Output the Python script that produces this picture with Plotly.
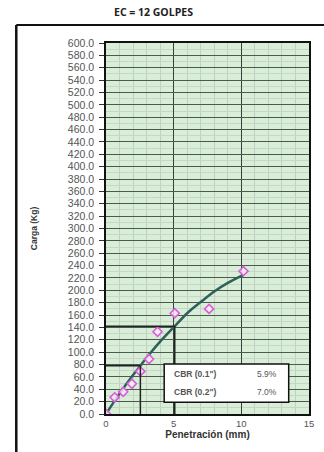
import plotly.graph_objects as go

# Ensayo CBR - EC = 12 golpes
penetracion = [0.0, 0.64, 1.27, 1.91, 2.54, 3.18, 3.81, 5.08, 7.62, 10.16]
carga = [0.0, 27.0, 36.0, 49.0, 69.0, 89.0, 133.0, 163.0, 170.0, 231.0]

# Curva ajustada (lecturas de la curva corregida)
curva_x = [0.0, 1.0, 2.0, 2.54, 3.0, 4.0, 5.08, 6.0, 7.0, 8.0, 9.0, 10.16]
curva_y = [0.0, 33.0, 63.0, 78.0, 91.0, 117.0, 142.0, 163.0, 181.0, 198.0, 212.0, 225.0]

cbr_labels = ['CBR (0.1")', 'CBR (0.2")']
cbr_values = ["5.9%", "7.0%"]

y_ticks = list(range(0, 601, 20))
x_ticks = [0, 5, 10, 15]

fig = go.Figure()

fig.add_trace(go.Scatter(
    x=curva_x, y=curva_y, mode="lines",
    line=dict(color="#2f5f5c", width=2.5, shape="spline"),
    hoverinfo="skip", showlegend=False,
))
fig.add_trace(go.Scatter(
    x=penetracion, y=carga, mode="markers",
    marker=dict(symbol="diamond", size=7, color="rgba(250,235,250,0.8)",
                line=dict(color="#da5cda", width=1.6)),
    showlegend=False,
))

shapes = []
# Lecturas a 2.54 mm y 5.08 mm
for px in (2.54, 5.08):
    py = curva_y[curva_x.index(px)]
    shapes.append(dict(type="line", xref="x", yref="y", x0=px, x1=px, y0=0, y1=py,
                       line=dict(color="#222", width=1.5), layer="above"))
    shapes.append(dict(type="line", xref="x", yref="y", x0=0, x1=px, y0=py, y1=py,
                       line=dict(color="#222", width=1.5), layer="above"))

# Marco exterior del gráfico
shapes.append(dict(type="line", xref="paper", yref="paper", x0=-0.442, x1=1.2,
                   y0=1.0485, y1=1.0485, line=dict(color="#111", width=2)))
shapes.append(dict(type="line", xref="paper", yref="paper", x0=-0.442, x1=-0.442,
                   y0=1.0485, y1=-0.2, line=dict(color="#111", width=2.5)))

# Cuadro de resultados CBR
shapes.append(dict(type="rect", xref="x", yref="y", x0=4.3, x1=13.5, y0=19, y1=81,
                   fillcolor="white", line=dict(color="#111", width=1.5), layer="above"))

annotations = []
for i, (lab, val) in enumerate(zip(cbr_labels, cbr_values)):
    yy = 65 - i * 30
    annotations.append(dict(x=6.6, y=yy, xref="x", yref="y", text=f"<b>{lab}</b>", showarrow=False,
                            font=dict(family="Liberation Sans", size=8.5, color="#555"),
                            xanchor="center"))
    annotations.append(dict(x=12.8, y=yy, xref="x", yref="y", text=val, showarrow=False,
                            font=dict(family="Liberation Sans", size=8.5, color="#555"),
                            xanchor="right"))

annotations.append(dict(x=0.235, y=1.083, xref="paper", yref="paper", text="<b>EC = 12 GOLPES</b>",
                        showarrow=False, font=dict(family="Open Sans", size=10.5, color="#222"),
                        xanchor="center", yanchor="middle"))

fig.update_layout(
    width=324, height=452,
    margin=dict(l=106, r=10, t=43, b=38),
    paper_bgcolor="white",
    plot_bgcolor="#d9eed7",
    shapes=shapes,
    annotations=annotations,
    font=dict(family="Liberation Sans", color="#444"),
)

fig.update_xaxes(
    range=[0, 15], tickvals=x_ticks, ticktext=[str(v) for v in x_ticks],
    showgrid=True, gridcolor="#34423a", gridwidth=1.3,
    minor=dict(dtick=1, showgrid=True, gridcolor="#c2d0c2", gridwidth=1),
    showline=True, linecolor="#111", linewidth=1.5, mirror=True,
    ticks="", tickfont=dict(size=9.5, color="#555"),
    title=dict(text="<b>Penetración (mm)</b>", font=dict(size=10, color="#333"), standoff=0),
    zeroline=False,
)
fig.update_yaxes(
    range=[0, 600], tickvals=y_ticks, ticktext=[f"{v:.1f}" for v in y_ticks],
    showgrid=True, gridcolor="#4a5a4e", gridwidth=1.4,
    minor=dict(dtick=10, showgrid=True, gridcolor="#c8d6c8", gridwidth=1),
    showline=True, linecolor="#111", linewidth=1.5, mirror=True,
    ticks="outside", ticklen=5, tickcolor="#333", ticklabelstandoff=3,
    tickfont=dict(size=10.5, color="#555"),
    title=dict(text="<b>Carga (Kg)</b>", font=dict(size=8.5, color="#333"), standoff=29),
    zeroline=False,
)

fig.write_html("out.html")
